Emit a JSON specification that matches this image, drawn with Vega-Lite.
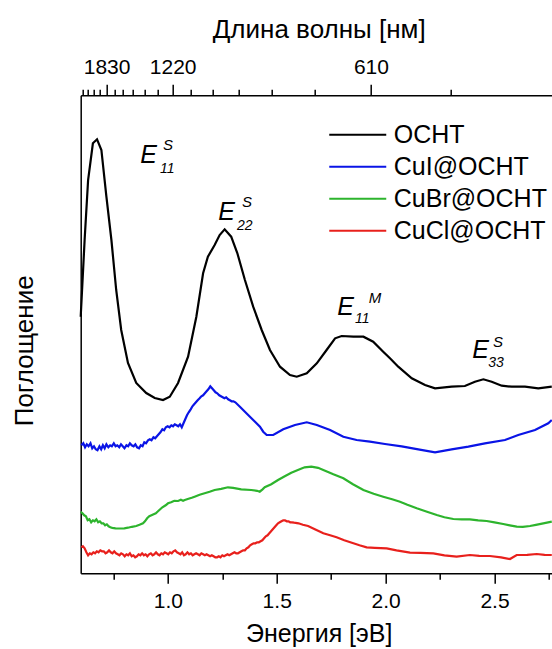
{
  "$schema": "https://vega.github.io/schema/vega-lite/v6.json",
  "width": 471.3,
  "height": 478,
  "autosize": {"type": "none"},
  "padding": {"left": 80.7, "top": 95.3, "right": 0, "bottom": 75.7},
  "background": "white",
  "config": {
    "font": "Liberation Sans",
    "view": {"stroke": null},
    "axis": {"grid": false, "domainColor": "#000", "tickColor": "#000", "labelColor": "#000", "titleColor": "#000", "labelFont": "Liberation Sans", "titleFont": "Liberation Sans", "titleFontWeight": "normal", "labelFontSize": 21, "titleFontSize": 26, "domainWidth": 1.5, "tickWidth": 1.5, "labelOverlap": false, "labelFlush": false},
    "text": {"font": "Liberation Sans", "color": "#000"}
  },
  "datasets": {
    "spectra": [
      {"sample": "OCHT", "energy": 0.600, "absorbance": 256.6},
      {"sample": "OCHT", "energy": 0.618, "absorbance": 333.3},
      {"sample": "OCHT", "energy": 0.634, "absorbance": 393.3},
      {"sample": "OCHT", "energy": 0.656, "absorbance": 430},
      {"sample": "OCHT", "energy": 0.675, "absorbance": 434},
      {"sample": "OCHT", "energy": 0.695, "absorbance": 423.3},
      {"sample": "OCHT", "energy": 0.718, "absorbance": 376.6},
      {"sample": "OCHT", "energy": 0.741, "absorbance": 333.3},
      {"sample": "OCHT", "energy": 0.763, "absorbance": 283.3},
      {"sample": "OCHT", "energy": 0.786, "absorbance": 243.3},
      {"sample": "OCHT", "energy": 0.817, "absorbance": 210.3},
      {"sample": "OCHT", "energy": 0.855, "absorbance": 190.3},
      {"sample": "OCHT", "energy": 0.901, "absorbance": 180.3},
      {"sample": "OCHT", "energy": 0.940, "absorbance": 175.3},
      {"sample": "OCHT", "energy": 0.978, "absorbance": 173.3},
      {"sample": "OCHT", "energy": 1.009, "absorbance": 176.6},
      {"sample": "OCHT", "energy": 1.047, "absorbance": 190.3},
      {"sample": "OCHT", "energy": 1.093, "absorbance": 216.6},
      {"sample": "OCHT", "energy": 1.131, "absorbance": 256.6},
      {"sample": "OCHT", "energy": 1.162, "absorbance": 300},
      {"sample": "OCHT", "energy": 1.184, "absorbance": 316.6},
      {"sample": "OCHT", "energy": 1.215, "absorbance": 328.3},
      {"sample": "OCHT", "energy": 1.238, "absorbance": 338.3},
      {"sample": "OCHT", "energy": 1.261, "absorbance": 344},
      {"sample": "OCHT", "energy": 1.291, "absorbance": 336.6},
      {"sample": "OCHT", "energy": 1.319, "absorbance": 320.3},
      {"sample": "OCHT", "energy": 1.354, "absorbance": 293.3},
      {"sample": "OCHT", "energy": 1.392, "absorbance": 266.6},
      {"sample": "OCHT", "energy": 1.431, "absorbance": 243.3},
      {"sample": "OCHT", "energy": 1.469, "absorbance": 223.3},
      {"sample": "OCHT", "energy": 1.515, "absorbance": 206.6},
      {"sample": "OCHT", "energy": 1.561, "absorbance": 198.3},
      {"sample": "OCHT", "energy": 1.592, "absorbance": 196.6},
      {"sample": "OCHT", "energy": 1.638, "absorbance": 200},
      {"sample": "OCHT", "energy": 1.684, "absorbance": 210},
      {"sample": "OCHT", "energy": 1.729, "absorbance": 223.3},
      {"sample": "OCHT", "energy": 1.768, "absorbance": 235},
      {"sample": "OCHT", "energy": 1.798, "absorbance": 237.3},
      {"sample": "OCHT", "energy": 1.852, "absorbance": 236.6},
      {"sample": "OCHT", "energy": 1.898, "absorbance": 236.6},
      {"sample": "OCHT", "energy": 1.943, "absorbance": 231.6},
      {"sample": "OCHT", "energy": 1.989, "absorbance": 221.6},
      {"sample": "OCHT", "energy": 2.020, "absorbance": 215},
      {"sample": "OCHT", "energy": 2.058, "absorbance": 206.6},
      {"sample": "OCHT", "energy": 2.120, "absorbance": 195},
      {"sample": "OCHT", "energy": 2.181, "absorbance": 188.3},
      {"sample": "OCHT", "energy": 2.227, "absorbance": 185},
      {"sample": "OCHT", "energy": 2.303, "absorbance": 186.6},
      {"sample": "OCHT", "energy": 2.364, "absorbance": 187.3},
      {"sample": "OCHT", "energy": 2.410, "absorbance": 191.6},
      {"sample": "OCHT", "energy": 2.449, "absorbance": 194},
      {"sample": "OCHT", "energy": 2.487, "absorbance": 191.6},
      {"sample": "OCHT", "energy": 2.533, "absorbance": 187.6},
      {"sample": "OCHT", "energy": 2.579, "absorbance": 186.6},
      {"sample": "OCHT", "energy": 2.640, "absorbance": 186.6},
      {"sample": "OCHT", "energy": 2.701, "absorbance": 185},
      {"sample": "OCHT", "energy": 2.763, "absorbance": 186.6},

      {"sample": "CuI@OCHT", "energy": 0.603, "absorbance": 128},
      {"sample": "CuI@OCHT", "energy": 0.612, "absorbance": 130},
      {"sample": "CuI@OCHT", "energy": 0.620, "absorbance": 126},
      {"sample": "CuI@OCHT", "energy": 0.628, "absorbance": 129},
      {"sample": "CuI@OCHT", "energy": 0.636, "absorbance": 127},
      {"sample": "CuI@OCHT", "energy": 0.645, "absorbance": 130},
      {"sample": "CuI@OCHT", "energy": 0.653, "absorbance": 125},
      {"sample": "CuI@OCHT", "energy": 0.661, "absorbance": 127},
      {"sample": "CuI@OCHT", "energy": 0.669, "absorbance": 124},
      {"sample": "CuI@OCHT", "energy": 0.677, "absorbance": 123},
      {"sample": "CuI@OCHT", "energy": 0.686, "absorbance": 127},
      {"sample": "CuI@OCHT", "energy": 0.694, "absorbance": 124},
      {"sample": "CuI@OCHT", "energy": 0.702, "absorbance": 128},
      {"sample": "CuI@OCHT", "energy": 0.710, "absorbance": 125},
      {"sample": "CuI@OCHT", "energy": 0.718, "absorbance": 129},
      {"sample": "CuI@OCHT", "energy": 0.727, "absorbance": 126},
      {"sample": "CuI@OCHT", "energy": 0.735, "absorbance": 128},
      {"sample": "CuI@OCHT", "energy": 0.743, "absorbance": 127},
      {"sample": "CuI@OCHT", "energy": 0.752, "absorbance": 130},
      {"sample": "CuI@OCHT", "energy": 0.760, "absorbance": 127},
      {"sample": "CuI@OCHT", "energy": 0.768, "absorbance": 128},
      {"sample": "CuI@OCHT", "energy": 0.777, "absorbance": 126},
      {"sample": "CuI@OCHT", "energy": 0.785, "absorbance": 129},
      {"sample": "CuI@OCHT", "energy": 0.793, "absorbance": 127},
      {"sample": "CuI@OCHT", "energy": 0.801, "absorbance": 125},
      {"sample": "CuI@OCHT", "energy": 0.810, "absorbance": 128},
      {"sample": "CuI@OCHT", "energy": 0.818, "absorbance": 127},
      {"sample": "CuI@OCHT", "energy": 0.826, "absorbance": 130},
      {"sample": "CuI@OCHT", "energy": 0.834, "absorbance": 128},
      {"sample": "CuI@OCHT", "energy": 0.843, "absorbance": 127},
      {"sample": "CuI@OCHT", "energy": 0.851, "absorbance": 129},
      {"sample": "CuI@OCHT", "energy": 0.859, "absorbance": 126},
      {"sample": "CuI@OCHT", "energy": 0.868, "absorbance": 125},
      {"sample": "CuI@OCHT", "energy": 0.876, "absorbance": 128},
      {"sample": "CuI@OCHT", "energy": 0.884, "absorbance": 127},
      {"sample": "CuI@OCHT", "energy": 0.892, "absorbance": 131},
      {"sample": "CuI@OCHT", "energy": 0.900, "absorbance": 130},
      {"sample": "CuI@OCHT", "energy": 0.909, "absorbance": 133},
      {"sample": "CuI@OCHT", "energy": 0.917, "absorbance": 134},
      {"sample": "CuI@OCHT", "energy": 0.925, "absorbance": 133},
      {"sample": "CuI@OCHT", "energy": 0.934, "absorbance": 136},
      {"sample": "CuI@OCHT", "energy": 0.942, "absorbance": 135},
      {"sample": "CuI@OCHT", "energy": 0.950, "absorbance": 137},
      {"sample": "CuI@OCHT", "energy": 0.958, "absorbance": 139},
      {"sample": "CuI@OCHT", "energy": 0.966, "absorbance": 141},
      {"sample": "CuI@OCHT", "energy": 0.975, "absorbance": 144},
      {"sample": "CuI@OCHT", "energy": 0.983, "absorbance": 143},
      {"sample": "CuI@OCHT", "energy": 0.991, "absorbance": 146},
      {"sample": "CuI@OCHT", "energy": 0.999, "absorbance": 147},
      {"sample": "CuI@OCHT", "energy": 1.008, "absorbance": 146},
      {"sample": "CuI@OCHT", "energy": 1.016, "absorbance": 148},
      {"sample": "CuI@OCHT", "energy": 1.024, "absorbance": 147},
      {"sample": "CuI@OCHT", "energy": 1.032, "absorbance": 149},
      {"sample": "CuI@OCHT", "energy": 1.040, "absorbance": 148},
      {"sample": "CuI@OCHT", "energy": 1.048, "absorbance": 147},
      {"sample": "CuI@OCHT", "energy": 1.056, "absorbance": 149},
      {"sample": "CuI@OCHT", "energy": 1.064, "absorbance": 146},
      {"sample": "CuI@OCHT", "energy": 1.072, "absorbance": 150},
      {"sample": "CuI@OCHT", "energy": 1.080, "absorbance": 154},
      {"sample": "CuI@OCHT", "energy": 1.088, "absorbance": 158},
      {"sample": "CuI@OCHT", "energy": 1.096, "absorbance": 161},
      {"sample": "CuI@OCHT", "energy": 1.105, "absorbance": 164},
      {"sample": "CuI@OCHT", "energy": 1.113, "absorbance": 167},
      {"sample": "CuI@OCHT", "energy": 1.121, "absorbance": 169},
      {"sample": "CuI@OCHT", "energy": 1.129, "absorbance": 171},
      {"sample": "CuI@OCHT", "energy": 1.137, "absorbance": 173},
      {"sample": "CuI@OCHT", "energy": 1.146, "absorbance": 175},
      {"sample": "CuI@OCHT", "energy": 1.154, "absorbance": 177},
      {"sample": "CuI@OCHT", "energy": 1.162, "absorbance": 178},
      {"sample": "CuI@OCHT", "energy": 1.170, "absorbance": 180},
      {"sample": "CuI@OCHT", "energy": 1.178, "absorbance": 182},
      {"sample": "CuI@OCHT", "energy": 1.186, "absorbance": 184},
      {"sample": "CuI@OCHT", "energy": 1.195, "absorbance": 187},
      {"sample": "CuI@OCHT", "energy": 1.203, "absorbance": 185},
      {"sample": "CuI@OCHT", "energy": 1.211, "absorbance": 183},
      {"sample": "CuI@OCHT", "energy": 1.219, "absorbance": 181},
      {"sample": "CuI@OCHT", "energy": 1.227, "absorbance": 180},
      {"sample": "CuI@OCHT", "energy": 1.236, "absorbance": 178},
      {"sample": "CuI@OCHT", "energy": 1.244, "absorbance": 177},
      {"sample": "CuI@OCHT", "energy": 1.252, "absorbance": 176},
      {"sample": "CuI@OCHT", "energy": 1.260, "absorbance": 175},
      {"sample": "CuI@OCHT", "energy": 1.268, "absorbance": 176},
      {"sample": "CuI@OCHT", "energy": 1.277, "absorbance": 174},
      {"sample": "CuI@OCHT", "energy": 1.285, "absorbance": 173},
      {"sample": "CuI@OCHT", "energy": 1.293, "absorbance": 172},
      {"sample": "CuI@OCHT", "energy": 1.301, "absorbance": 172},
      {"sample": "CuI@OCHT", "energy": 1.310, "absorbance": 171},
      {"sample": "CuI@OCHT", "energy": 1.331, "absorbance": 166.6},
      {"sample": "CuI@OCHT", "energy": 1.377, "absorbance": 156.6},
      {"sample": "CuI@OCHT", "energy": 1.423, "absorbance": 146.6},
      {"sample": "CuI@OCHT", "energy": 1.438, "absorbance": 141.6},
      {"sample": "CuI@OCHT", "energy": 1.454, "absorbance": 138.3},
      {"sample": "CuI@OCHT", "energy": 1.484, "absorbance": 138.3},
      {"sample": "CuI@OCHT", "energy": 1.530, "absorbance": 144},
      {"sample": "CuI@OCHT", "energy": 1.584, "absorbance": 148.3},
      {"sample": "CuI@OCHT", "energy": 1.638, "absorbance": 151},
      {"sample": "CuI@OCHT", "energy": 1.684, "absorbance": 148.3},
      {"sample": "CuI@OCHT", "energy": 1.745, "absorbance": 143.3},
      {"sample": "CuI@OCHT", "energy": 1.806, "absorbance": 136.6},
      {"sample": "CuI@OCHT", "energy": 1.867, "absorbance": 133.3},
      {"sample": "CuI@OCHT", "energy": 1.928, "absorbance": 131.6},
      {"sample": "CuI@OCHT", "energy": 1.997, "absorbance": 129.3},
      {"sample": "CuI@OCHT", "energy": 2.074, "absorbance": 127},
      {"sample": "CuI@OCHT", "energy": 2.150, "absorbance": 124},
      {"sample": "CuI@OCHT", "energy": 2.227, "absorbance": 121},
      {"sample": "CuI@OCHT", "energy": 2.303, "absorbance": 124},
      {"sample": "CuI@OCHT", "energy": 2.380, "absorbance": 126.6},
      {"sample": "CuI@OCHT", "energy": 2.456, "absorbance": 130},
      {"sample": "CuI@OCHT", "energy": 2.548, "absorbance": 133.3},
      {"sample": "CuI@OCHT", "energy": 2.609, "absorbance": 138.3},
      {"sample": "CuI@OCHT", "energy": 2.686, "absorbance": 143.3},
      {"sample": "CuI@OCHT", "energy": 2.747, "absorbance": 150},
      {"sample": "CuI@OCHT", "energy": 2.763, "absorbance": 153.3},

      {"sample": "CuBr@OCHT", "energy": 0.600, "absorbance": 61.6},
      {"sample": "CuBr@OCHT", "energy": 0.608, "absorbance": 60},
      {"sample": "CuBr@OCHT", "energy": 0.616, "absorbance": 58},
      {"sample": "CuBr@OCHT", "energy": 0.624, "absorbance": 57},
      {"sample": "CuBr@OCHT", "energy": 0.632, "absorbance": 53},
      {"sample": "CuBr@OCHT", "energy": 0.640, "absorbance": 54},
      {"sample": "CuBr@OCHT", "energy": 0.648, "absorbance": 51},
      {"sample": "CuBr@OCHT", "energy": 0.656, "absorbance": 53},
      {"sample": "CuBr@OCHT", "energy": 0.664, "absorbance": 52},
      {"sample": "CuBr@OCHT", "energy": 0.672, "absorbance": 54},
      {"sample": "CuBr@OCHT", "energy": 0.680, "absorbance": 51},
      {"sample": "CuBr@OCHT", "energy": 0.688, "absorbance": 52},
      {"sample": "CuBr@OCHT", "energy": 0.696, "absorbance": 50},
      {"sample": "CuBr@OCHT", "energy": 0.704, "absorbance": 50},
      {"sample": "CuBr@OCHT", "energy": 0.712, "absorbance": 48},
      {"sample": "CuBr@OCHT", "energy": 0.720, "absorbance": 49},
      {"sample": "CuBr@OCHT", "energy": 0.728, "absorbance": 47},
      {"sample": "CuBr@OCHT", "energy": 0.736, "absorbance": 46},
      {"sample": "CuBr@OCHT", "energy": 0.745, "absorbance": 45.5},
      {"sample": "CuBr@OCHT", "energy": 0.760, "absorbance": 45},
      {"sample": "CuBr@OCHT", "energy": 0.780, "absorbance": 44.8},
      {"sample": "CuBr@OCHT", "energy": 0.800, "absorbance": 45},
      {"sample": "CuBr@OCHT", "energy": 0.817, "absorbance": 45.6},
      {"sample": "CuBr@OCHT", "energy": 0.835, "absorbance": 46.5},
      {"sample": "CuBr@OCHT", "energy": 0.855, "absorbance": 47.3},
      {"sample": "CuBr@OCHT", "energy": 0.870, "absorbance": 48.5},
      {"sample": "CuBr@OCHT", "energy": 0.886, "absorbance": 50},
      {"sample": "CuBr@OCHT", "energy": 0.895, "absorbance": 52},
      {"sample": "CuBr@OCHT", "energy": 0.905, "absorbance": 55},
      {"sample": "CuBr@OCHT", "energy": 0.915, "absorbance": 57},
      {"sample": "CuBr@OCHT", "energy": 0.925, "absorbance": 58},
      {"sample": "CuBr@OCHT", "energy": 0.935, "absorbance": 59},
      {"sample": "CuBr@OCHT", "energy": 0.945, "absorbance": 60},
      {"sample": "CuBr@OCHT", "energy": 0.955, "absorbance": 62},
      {"sample": "CuBr@OCHT", "energy": 0.965, "absorbance": 64},
      {"sample": "CuBr@OCHT", "energy": 0.975, "absorbance": 66},
      {"sample": "CuBr@OCHT", "energy": 0.990, "absorbance": 68},
      {"sample": "CuBr@OCHT", "energy": 1.001, "absorbance": 70},
      {"sample": "CuBr@OCHT", "energy": 1.015, "absorbance": 71},
      {"sample": "CuBr@OCHT", "energy": 1.030, "absorbance": 72.5},
      {"sample": "CuBr@OCHT", "energy": 1.047, "absorbance": 72.3},
      {"sample": "CuBr@OCHT", "energy": 1.060, "absorbance": 73.5},
      {"sample": "CuBr@OCHT", "energy": 1.070, "absorbance": 72.6},
      {"sample": "CuBr@OCHT", "energy": 1.078, "absorbance": 73.3},
      {"sample": "CuBr@OCHT", "energy": 1.095, "absorbance": 74.5},
      {"sample": "CuBr@OCHT", "energy": 1.110, "absorbance": 75.5},
      {"sample": "CuBr@OCHT", "energy": 1.123, "absorbance": 76.6},
      {"sample": "CuBr@OCHT", "energy": 1.146, "absorbance": 78.5},
      {"sample": "CuBr@OCHT", "energy": 1.169, "absorbance": 80},
      {"sample": "CuBr@OCHT", "energy": 1.192, "absorbance": 81.5},
      {"sample": "CuBr@OCHT", "energy": 1.215, "absorbance": 83.3},
      {"sample": "CuBr@OCHT", "energy": 1.245, "absorbance": 84.5},
      {"sample": "CuBr@OCHT", "energy": 1.276, "absorbance": 86},
      {"sample": "CuBr@OCHT", "energy": 1.300, "absorbance": 85.5},
      {"sample": "CuBr@OCHT", "energy": 1.337, "absorbance": 84},
      {"sample": "CuBr@OCHT", "energy": 1.383, "absorbance": 83.3},
      {"sample": "CuBr@OCHT", "energy": 1.410, "absorbance": 82.5},
      {"sample": "CuBr@OCHT", "energy": 1.422, "absorbance": 81.6},
      {"sample": "CuBr@OCHT", "energy": 1.435, "absorbance": 84},
      {"sample": "CuBr@OCHT", "energy": 1.445, "absorbance": 86},
      {"sample": "CuBr@OCHT", "energy": 1.475, "absorbance": 89},
      {"sample": "CuBr@OCHT", "energy": 1.506, "absorbance": 93.3},
      {"sample": "CuBr@OCHT", "energy": 1.537, "absorbance": 97},
      {"sample": "CuBr@OCHT", "energy": 1.567, "absorbance": 100.6},
      {"sample": "CuBr@OCHT", "energy": 1.600, "absorbance": 103.5},
      {"sample": "CuBr@OCHT", "energy": 1.628, "absorbance": 106},
      {"sample": "CuBr@OCHT", "energy": 1.659, "absorbance": 106.6},
      {"sample": "CuBr@OCHT", "energy": 1.690, "absorbance": 105.5},
      {"sample": "CuBr@OCHT", "energy": 1.714, "absorbance": 103.3},
      {"sample": "CuBr@OCHT", "energy": 1.760, "absorbance": 99},
      {"sample": "CuBr@OCHT", "energy": 1.806, "absorbance": 95},
      {"sample": "CuBr@OCHT", "energy": 1.850, "absorbance": 89},
      {"sample": "CuBr@OCHT", "energy": 1.898, "absorbance": 83.3},
      {"sample": "CuBr@OCHT", "energy": 1.945, "absorbance": 79.5},
      {"sample": "CuBr@OCHT", "energy": 1.989, "absorbance": 76.6},
      {"sample": "CuBr@OCHT", "energy": 2.030, "absorbance": 74},
      {"sample": "CuBr@OCHT", "energy": 2.066, "absorbance": 71.6},
      {"sample": "CuBr@OCHT", "energy": 2.100, "absorbance": 68.5},
      {"sample": "CuBr@OCHT", "energy": 2.143, "absorbance": 65},
      {"sample": "CuBr@OCHT", "energy": 2.190, "absorbance": 61.5},
      {"sample": "CuBr@OCHT", "energy": 2.235, "absorbance": 58.3},
      {"sample": "CuBr@OCHT", "energy": 2.270, "absorbance": 56},
      {"sample": "CuBr@OCHT", "energy": 2.311, "absorbance": 54.3},
      {"sample": "CuBr@OCHT", "energy": 2.350, "absorbance": 54},
      {"sample": "CuBr@OCHT", "energy": 2.387, "absorbance": 54},
      {"sample": "CuBr@OCHT", "energy": 2.425, "absorbance": 53},
      {"sample": "CuBr@OCHT", "energy": 2.464, "absorbance": 52.3},
      {"sample": "CuBr@OCHT", "energy": 2.500, "absorbance": 51},
      {"sample": "CuBr@OCHT", "energy": 2.540, "absorbance": 49.3},
      {"sample": "CuBr@OCHT", "energy": 2.570, "absorbance": 48},
      {"sample": "CuBr@OCHT", "energy": 2.602, "absorbance": 46.6},
      {"sample": "CuBr@OCHT", "energy": 2.630, "absorbance": 46.5},
      {"sample": "CuBr@OCHT", "energy": 2.663, "absorbance": 47.3},
      {"sample": "CuBr@OCHT", "energy": 2.690, "absorbance": 48.5},
      {"sample": "CuBr@OCHT", "energy": 2.724, "absorbance": 50},
      {"sample": "CuBr@OCHT", "energy": 2.763, "absorbance": 51.6},

      {"sample": "CuCl@OCHT", "energy": 0.603, "absorbance": 26},
      {"sample": "CuCl@OCHT", "energy": 0.610, "absorbance": 27},
      {"sample": "CuCl@OCHT", "energy": 0.618, "absorbance": 25},
      {"sample": "CuCl@OCHT", "energy": 0.626, "absorbance": 21},
      {"sample": "CuCl@OCHT", "energy": 0.634, "absorbance": 18},
      {"sample": "CuCl@OCHT", "energy": 0.642, "absorbance": 20},
      {"sample": "CuCl@OCHT", "energy": 0.650, "absorbance": 19},
      {"sample": "CuCl@OCHT", "energy": 0.658, "absorbance": 21},
      {"sample": "CuCl@OCHT", "energy": 0.666, "absorbance": 20},
      {"sample": "CuCl@OCHT", "energy": 0.674, "absorbance": 22},
      {"sample": "CuCl@OCHT", "energy": 0.682, "absorbance": 21},
      {"sample": "CuCl@OCHT", "energy": 0.690, "absorbance": 23},
      {"sample": "CuCl@OCHT", "energy": 0.698, "absorbance": 22},
      {"sample": "CuCl@OCHT", "energy": 0.706, "absorbance": 22},
      {"sample": "CuCl@OCHT", "energy": 0.714, "absorbance": 20},
      {"sample": "CuCl@OCHT", "energy": 0.722, "absorbance": 21},
      {"sample": "CuCl@OCHT", "energy": 0.730, "absorbance": 23},
      {"sample": "CuCl@OCHT", "energy": 0.738, "absorbance": 21},
      {"sample": "CuCl@OCHT", "energy": 0.746, "absorbance": 20},
      {"sample": "CuCl@OCHT", "energy": 0.754, "absorbance": 22},
      {"sample": "CuCl@OCHT", "energy": 0.762, "absorbance": 20},
      {"sample": "CuCl@OCHT", "energy": 0.770, "absorbance": 19},
      {"sample": "CuCl@OCHT", "energy": 0.778, "absorbance": 18},
      {"sample": "CuCl@OCHT", "energy": 0.786, "absorbance": 20},
      {"sample": "CuCl@OCHT", "energy": 0.794, "absorbance": 19},
      {"sample": "CuCl@OCHT", "energy": 0.802, "absorbance": 17},
      {"sample": "CuCl@OCHT", "energy": 0.810, "absorbance": 19},
      {"sample": "CuCl@OCHT", "energy": 0.818, "absorbance": 18},
      {"sample": "CuCl@OCHT", "energy": 0.826, "absorbance": 20},
      {"sample": "CuCl@OCHT", "energy": 0.834, "absorbance": 17},
      {"sample": "CuCl@OCHT", "energy": 0.842, "absorbance": 18},
      {"sample": "CuCl@OCHT", "energy": 0.850, "absorbance": 16},
      {"sample": "CuCl@OCHT", "energy": 0.858, "absorbance": 17},
      {"sample": "CuCl@OCHT", "energy": 0.866, "absorbance": 19},
      {"sample": "CuCl@OCHT", "energy": 0.874, "absorbance": 18},
      {"sample": "CuCl@OCHT", "energy": 0.882, "absorbance": 20},
      {"sample": "CuCl@OCHT", "energy": 0.890, "absorbance": 18},
      {"sample": "CuCl@OCHT", "energy": 0.898, "absorbance": 19},
      {"sample": "CuCl@OCHT", "energy": 0.906, "absorbance": 17},
      {"sample": "CuCl@OCHT", "energy": 0.914, "absorbance": 19},
      {"sample": "CuCl@OCHT", "energy": 0.922, "absorbance": 20},
      {"sample": "CuCl@OCHT", "energy": 0.930, "absorbance": 18},
      {"sample": "CuCl@OCHT", "energy": 0.938, "absorbance": 19},
      {"sample": "CuCl@OCHT", "energy": 0.946, "absorbance": 21},
      {"sample": "CuCl@OCHT", "energy": 0.954, "absorbance": 19},
      {"sample": "CuCl@OCHT", "energy": 0.962, "absorbance": 18},
      {"sample": "CuCl@OCHT", "energy": 0.970, "absorbance": 20},
      {"sample": "CuCl@OCHT", "energy": 0.978, "absorbance": 19},
      {"sample": "CuCl@OCHT", "energy": 0.986, "absorbance": 21},
      {"sample": "CuCl@OCHT", "energy": 0.994, "absorbance": 20},
      {"sample": "CuCl@OCHT", "energy": 1.002, "absorbance": 19},
      {"sample": "CuCl@OCHT", "energy": 1.010, "absorbance": 21},
      {"sample": "CuCl@OCHT", "energy": 1.018, "absorbance": 20},
      {"sample": "CuCl@OCHT", "energy": 1.026, "absorbance": 22},
      {"sample": "CuCl@OCHT", "energy": 1.034, "absorbance": 23},
      {"sample": "CuCl@OCHT", "energy": 1.042, "absorbance": 21},
      {"sample": "CuCl@OCHT", "energy": 1.050, "absorbance": 20},
      {"sample": "CuCl@OCHT", "energy": 1.058, "absorbance": 19},
      {"sample": "CuCl@OCHT", "energy": 1.066, "absorbance": 21},
      {"sample": "CuCl@OCHT", "energy": 1.074, "absorbance": 18},
      {"sample": "CuCl@OCHT", "energy": 1.082, "absorbance": 19},
      {"sample": "CuCl@OCHT", "energy": 1.090, "absorbance": 21},
      {"sample": "CuCl@OCHT", "energy": 1.098, "absorbance": 19},
      {"sample": "CuCl@OCHT", "energy": 1.106, "absorbance": 20},
      {"sample": "CuCl@OCHT", "energy": 1.114, "absorbance": 18},
      {"sample": "CuCl@OCHT", "energy": 1.122, "absorbance": 19},
      {"sample": "CuCl@OCHT", "energy": 1.130, "absorbance": 20},
      {"sample": "CuCl@OCHT", "energy": 1.138, "absorbance": 19},
      {"sample": "CuCl@OCHT", "energy": 1.146, "absorbance": 18},
      {"sample": "CuCl@OCHT", "energy": 1.154, "absorbance": 20},
      {"sample": "CuCl@OCHT", "energy": 1.162, "absorbance": 19},
      {"sample": "CuCl@OCHT", "energy": 1.170, "absorbance": 18},
      {"sample": "CuCl@OCHT", "energy": 1.178, "absorbance": 19},
      {"sample": "CuCl@OCHT", "energy": 1.186, "absorbance": 18},
      {"sample": "CuCl@OCHT", "energy": 1.194, "absorbance": 17},
      {"sample": "CuCl@OCHT", "energy": 1.202, "absorbance": 18},
      {"sample": "CuCl@OCHT", "energy": 1.210, "absorbance": 17},
      {"sample": "CuCl@OCHT", "energy": 1.218, "absorbance": 16},
      {"sample": "CuCl@OCHT", "energy": 1.226, "absorbance": 16},
      {"sample": "CuCl@OCHT", "energy": 1.234, "absorbance": 17},
      {"sample": "CuCl@OCHT", "energy": 1.242, "absorbance": 16},
      {"sample": "CuCl@OCHT", "energy": 1.250, "absorbance": 18},
      {"sample": "CuCl@OCHT", "energy": 1.258, "absorbance": 17},
      {"sample": "CuCl@OCHT", "energy": 1.266, "absorbance": 18},
      {"sample": "CuCl@OCHT", "energy": 1.274, "absorbance": 19},
      {"sample": "CuCl@OCHT", "energy": 1.282, "absorbance": 18},
      {"sample": "CuCl@OCHT", "energy": 1.290, "absorbance": 19},
      {"sample": "CuCl@OCHT", "energy": 1.298, "absorbance": 20},
      {"sample": "CuCl@OCHT", "energy": 1.306, "absorbance": 21},
      {"sample": "CuCl@OCHT", "energy": 1.314, "absorbance": 20},
      {"sample": "CuCl@OCHT", "energy": 1.322, "absorbance": 20},
      {"sample": "CuCl@OCHT", "energy": 1.330, "absorbance": 21},
      {"sample": "CuCl@OCHT", "energy": 1.338, "absorbance": 22},
      {"sample": "CuCl@OCHT", "energy": 1.346, "absorbance": 23},
      {"sample": "CuCl@OCHT", "energy": 1.354, "absorbance": 23},
      {"sample": "CuCl@OCHT", "energy": 1.362, "absorbance": 25},
      {"sample": "CuCl@OCHT", "energy": 1.370, "absorbance": 26},
      {"sample": "CuCl@OCHT", "energy": 1.378, "absorbance": 28},
      {"sample": "CuCl@OCHT", "energy": 1.386, "absorbance": 29},
      {"sample": "CuCl@OCHT", "energy": 1.394, "absorbance": 30},
      {"sample": "CuCl@OCHT", "energy": 1.402, "absorbance": 30},
      {"sample": "CuCl@OCHT", "energy": 1.410, "absorbance": 31},
      {"sample": "CuCl@OCHT", "energy": 1.418, "absorbance": 31},
      {"sample": "CuCl@OCHT", "energy": 1.426, "absorbance": 32},
      {"sample": "CuCl@OCHT", "energy": 1.434, "absorbance": 33},
      {"sample": "CuCl@OCHT", "energy": 1.442, "absorbance": 35},
      {"sample": "CuCl@OCHT", "energy": 1.450, "absorbance": 37},
      {"sample": "CuCl@OCHT", "energy": 1.458, "absorbance": 38},
      {"sample": "CuCl@OCHT", "energy": 1.466, "absorbance": 40},
      {"sample": "CuCl@OCHT", "energy": 1.474, "absorbance": 42},
      {"sample": "CuCl@OCHT", "energy": 1.482, "absorbance": 44},
      {"sample": "CuCl@OCHT", "energy": 1.490, "absorbance": 46},
      {"sample": "CuCl@OCHT", "energy": 1.498, "absorbance": 48},
      {"sample": "CuCl@OCHT", "energy": 1.506, "absorbance": 50},
      {"sample": "CuCl@OCHT", "energy": 1.514, "absorbance": 51},
      {"sample": "CuCl@OCHT", "energy": 1.522, "absorbance": 52},
      {"sample": "CuCl@OCHT", "energy": 1.530, "absorbance": 53},
      {"sample": "CuCl@OCHT", "energy": 1.538, "absorbance": 53},
      {"sample": "CuCl@OCHT", "energy": 1.546, "absorbance": 52},
      {"sample": "CuCl@OCHT", "energy": 1.554, "absorbance": 52},
      {"sample": "CuCl@OCHT", "energy": 1.562, "absorbance": 51},
      {"sample": "CuCl@OCHT", "energy": 1.570, "absorbance": 51},
      {"sample": "CuCl@OCHT", "energy": 1.580, "absorbance": 50.6},
      {"sample": "CuCl@OCHT", "energy": 1.600, "absorbance": 50},
      {"sample": "CuCl@OCHT", "energy": 1.620, "absorbance": 48.5},
      {"sample": "CuCl@OCHT", "energy": 1.644, "absorbance": 47.3},
      {"sample": "CuCl@OCHT", "energy": 1.680, "absorbance": 43.5},
      {"sample": "CuCl@OCHT", "energy": 1.714, "absorbance": 40},
      {"sample": "CuCl@OCHT", "energy": 1.745, "absorbance": 38},
      {"sample": "CuCl@OCHT", "energy": 1.775, "absorbance": 36},
      {"sample": "CuCl@OCHT", "energy": 1.810, "absorbance": 33},
      {"sample": "CuCl@OCHT", "energy": 1.852, "absorbance": 30},
      {"sample": "CuCl@OCHT", "energy": 1.880, "absorbance": 28},
      {"sample": "CuCl@OCHT", "energy": 1.913, "absorbance": 26},
      {"sample": "CuCl@OCHT", "energy": 1.950, "absorbance": 25.5},
      {"sample": "CuCl@OCHT", "energy": 2.005, "absorbance": 25},
      {"sample": "CuCl@OCHT", "energy": 2.050, "absorbance": 23},
      {"sample": "CuCl@OCHT", "energy": 2.112, "absorbance": 20.6},
      {"sample": "CuCl@OCHT", "energy": 2.160, "absorbance": 20.5},
      {"sample": "CuCl@OCHT", "energy": 2.219, "absorbance": 20},
      {"sample": "CuCl@OCHT", "energy": 2.270, "absorbance": 18},
      {"sample": "CuCl@OCHT", "energy": 2.326, "absorbance": 16.6},
      {"sample": "CuCl@OCHT", "energy": 2.387, "absorbance": 18.3},
      {"sample": "CuCl@OCHT", "energy": 2.430, "absorbance": 17.5},
      {"sample": "CuCl@OCHT", "energy": 2.479, "absorbance": 17.3},
      {"sample": "CuCl@OCHT", "energy": 2.530, "absorbance": 16},
      {"sample": "CuCl@OCHT", "energy": 2.571, "absorbance": 14.3},
      {"sample": "CuCl@OCHT", "energy": 2.602, "absorbance": 18.3},
      {"sample": "CuCl@OCHT", "energy": 2.650, "absorbance": 18.5},
      {"sample": "CuCl@OCHT", "energy": 2.694, "absorbance": 19.3},
      {"sample": "CuCl@OCHT", "energy": 2.730, "absorbance": 18.5},
      {"sample": "CuCl@OCHT", "energy": 2.763, "absorbance": 18.3}
    ],
    "bigE": [
      {"t": "E", "energy": 0.873, "absorbance": 410.3},
      {"t": "E", "energy": 1.231, "absorbance": 353.3},
      {"t": "E", "energy": 1.778, "absorbance": 258.3},
      {"t": "E", "energy": 2.398, "absorbance": 215.3}
    ],
    "supers": [
      {"t": "S", "energy": 1.001, "absorbance": 423.3},
      {"t": "S", "energy": 1.364, "absorbance": 366.3},
      {"t": "M", "energy": 1.951, "absorbance": 270.3},
      {"t": "S", "energy": 2.516, "absorbance": 226.3}
    ],
    "subs": [
      {"t": "11", "energy": 0.964, "absorbance": 400.3},
      {"t": "22", "energy": 1.318, "absorbance": 343.3},
      {"t": "11", "energy": 1.860, "absorbance": 250.3},
      {"t": "33", "energy": 2.471, "absorbance": 206.3}
    ],
    "wavelengthTicks": [
      {"wl": 508.33}, {"wl": 610}, {"wl": 711.67}, {"wl": 813.33}, {"wl": 915}, {"wl": 1016.67}, {"wl": 1118.33}, {"wl": 1220}, {"wl": 1321.67}, {"wl": 1423.33}, {"wl": 1525}, {"wl": 1626.67}, {"wl": 1728.33}, {"wl": 1830}, {"wl": 1931.67}, {"wl": 2033.33}, {"wl": 2135}, {"wl": 2236.67}
    ]
  },
  "layer": [
    {
      "layer": [
        {
          "data": {"name": "spectra"},
          "mark": {"type": "line", "strokeWidth": 2.2},
          "encoding": {
            "x": {
              "field": "energy", "type": "quantitative",
              "scale": {"domain": [0.6, 2.764], "nice": false, "zero": false},
              "axis": {
                "orient": "bottom", "title": "Энергия [эВ]",
                "values": [0.75, 1, 1.25, 1.5, 1.75, 2, 2.25, 2.5, 2.75],
                "labelExpr": "abs(datum.value * 2 - round(datum.value * 2)) < 0.001 ? format(datum.value, '.1f') : ''",
                "tickSize": {"condition": {"test": "abs(datum.value * 2 - round(datum.value * 2)) < 0.001", "value": 10}, "value": 6},
                "labelPadding": 6.7,
                "titleX": 238, "titleY": 68.5, "titleBaseline": "alphabetic", "titleAlign": "center", "titleFontSize": 25
              }
            },
            "y": {
              "field": "absorbance", "type": "quantitative",
              "scale": {"domain": [0, 478], "nice": false, "zero": false},
              "axis": {
                "title": "Поглощение", "ticks": false, "labels": false,
                "titleX": -47.7, "titleY": 255, "titleAngle": 270, "titleBaseline": "alphabetic", "titleAlign": "center", "titleFontSize": 26
              }
            },
            "color": {
              "field": "sample", "type": "nominal",
              "scale": {"domain": ["OCHT", "CuI@OCHT", "CuBr@OCHT", "CuCl@OCHT"], "range": ["#000000", "#0a14e6", "#2db42d", "#e8201c"]},
              "legend": {
                "orient": "none", "legendX": 261.55, "legendY": 24, "title": null, "padding": 0,
                "symbolType": "M-2,0L2,0", "symbolSize": 812, "symbolStrokeWidth": 2,
                "labelFontSize": 25, "labelFont": "Liberation Sans", "labelColor": "#000", "labelOffset": 20.5, "labelLimit": 300, "rowPadding": 3
              }
            }
          }
        },
        {
          "data": {"name": "bigE"},
          "mark": {"type": "text", "fontSize": 25, "fontStyle": "italic", "align": "left", "baseline": "alphabetic"},
          "encoding": {
            "x": {"field": "energy", "type": "quantitative"},
            "y": {"field": "absorbance", "type": "quantitative"},
            "text": {"field": "t"}
          }
        },
        {
          "data": {"name": "supers"},
          "mark": {"type": "text", "fontSize": 15, "fontStyle": "italic", "align": "center", "baseline": "alphabetic"},
          "encoding": {
            "x": {"field": "energy", "type": "quantitative"},
            "y": {"field": "absorbance", "type": "quantitative"},
            "text": {"field": "t"}
          }
        },
        {
          "data": {"name": "subs"},
          "mark": {"type": "text", "fontSize": 14, "fontStyle": "italic", "align": "left", "baseline": "alphabetic"},
          "encoding": {
            "x": {"field": "energy", "type": "quantitative"},
            "y": {"field": "absorbance", "type": "quantitative"},
            "text": {"field": "t"}
          }
        }
      ]
    },
    {
      "data": {"name": "wavelengthTicks"},
      "mark": {"type": "rule", "opacity": 0},
      "encoding": {
        "x": {
          "field": "wl", "type": "quantitative",
          "scale": {"type": "pow", "exponent": -1, "domain": [2275.9, 418.8], "nice": false, "zero": false},
          "axis": {
            "orient": "top", "title": "Длина волны [нм]",
            "values": [508.33, 610, 711.67, 813.33, 915, 1016.67, 1118.33, 1220, 1321.67, 1423.33, 1525, 1626.67, 1728.33, 1830, 1931.67, 2033.33, 2135, 2236.67],
            "labelExpr": "(datum.value == 610 || datum.value == 1220 || datum.value == 1830) ? format(datum.value, 'd') : ''",
            "tickSize": {"condition": {"test": "datum.value == 610 || datum.value == 1220 || datum.value == 1830", "value": 11}, "value": 6},
            "labelPadding": 6.6,
            "titleX": 238, "titleY": -58.3, "titleBaseline": "alphabetic", "titleAlign": "center"
          }
        }
      }
    }
  ],
  "resolve": {"scale": {"x": "independent"}, "axis": {"x": "independent"}}
}
